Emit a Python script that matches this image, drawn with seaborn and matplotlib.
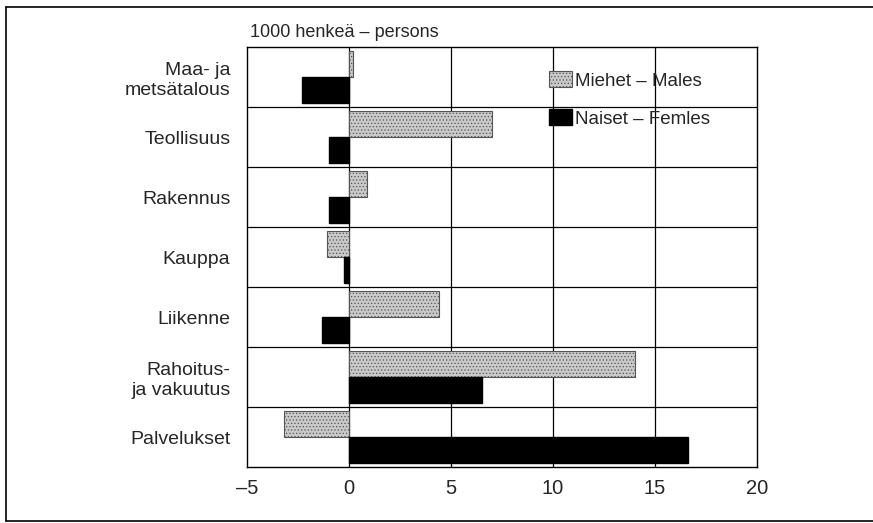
import matplotlib
matplotlib.use("Agg")
import matplotlib.pyplot as plt
import seaborn as sns
import pandas as pd
from matplotlib.patches import Patch
from matplotlib.lines import Line2D

categories = ["Maa- ja\nmetsätalous", "Teollisuus", "Rakennus", "Kauppa",
              "Liikenne", "Rahoitus-\nja vakuutus", "Palvelukset"]
males = [0.2, 7.0, 0.9, -1.1, 4.4, 14.0, -3.2]
females = [-2.3, -1.0, -1.0, -0.25, -1.3, 6.5, 16.6]
series_names = ["Miehet – Males", "Naiset – Femles"]
xticks = [-5, 0, 5, 10, 15, 20]
xtick_labels = ["–5", "0", "5", "10", "15", "20"]
title = "1000 henkeä – persons"

df = pd.DataFrame({
    "cat": categories * 2,
    "val": males + females,
    "sex": [series_names[0]] * len(categories) + [series_names[1]] * len(categories),
})

sns.set_theme(style="white")
plt.rcParams['font.family'] = ['Liberation Sans Narrow', 'Liberation Sans', 'DejaVu Sans']
plt.rcParams['hatch.linewidth'] = 0.5
plt.rcParams['hatch.color'] = '#6a6a6a'

fig = plt.figure(figsize=(8.73, 5.23), dpi=100)
ax = fig.add_axes([247/873, 1-467/523, (757-247)/873, (467-47)/523])

male_color = "#c9c9c9"
sns.barplot(data=df, y="cat", x="val", hue="sex", orient="h",
            palette=[male_color, "black"], width=0.88, gap=0,
            saturation=1, legend=False, ax=ax, zorder=3)

n = len(categories)
for p in ax.patches[:n]:
    p.set_hatch(".....")
    p.set_edgecolor("#555555")
    p.set_linewidth(0.8)
for p in ax.patches[n:2*n]:
    p.set_edgecolor("black")

ax.set_xlim(-5, 20)
ax.set_ylim(n - 0.5, -0.5)
ax.set_xticks(xticks)
ax.set_xticklabels(xtick_labels, fontsize=14.5)
ax.set_yticks(range(n))
ax.set_yticklabels(categories, fontsize=14, ha="right", multialignment="right",
                   linespacing=1.25)
ax.tick_params(axis="y", length=0, pad=12)
ax.tick_params(axis="x", length=0, pad=9)
ax.set_xlabel("")
ax.set_ylabel("")

for xv in [0, 5, 10, 15]:
    ax.axvline(xv, color="black", lw=0.9, zorder=2)
for k in range(1, n):
    ax.axhline(k - 0.5, color="black", lw=0.9, zorder=2)
for s in ax.spines.values():
    s.set_color("black")
    s.set_linewidth(1.0)
    s.set_visible(True)

ax.text(0.005, 1.015, title, transform=ax.transAxes, fontsize=13,
        ha="left", va="bottom")

handles = [Patch(facecolor=male_color, edgecolor="#555555", hatch=".....", lw=0.8),
           Patch(facecolor="black", edgecolor="black")]
leg = ax.legend(handles, series_names, loc="upper left",
                bbox_to_anchor=((540 - 247) / 510, 1 - (62 - 47) / 420),
                frameon=False, fontsize=13.5, handlelength=1.2, handleheight=0.9,
                handletextpad=0.15, labelspacing=1.05, borderpad=0)
leg.set_zorder(5)

# outer frame of the figure
fig.add_artist(Line2D([6/873, 6/873], [1-7/523, 1-521/523], color="black", lw=1.2, transform=fig.transFigure))
fig.add_artist(Line2D([6/873, 1.0], [1-7/523, 1-7/523], color="black", lw=1.2, transform=fig.transFigure))
fig.add_artist(Line2D([6/873, 1.0], [1-521/523, 1-521/523], color="black", lw=1.2, transform=fig.transFigure))

fig.savefig("out.png", dpi=100)
